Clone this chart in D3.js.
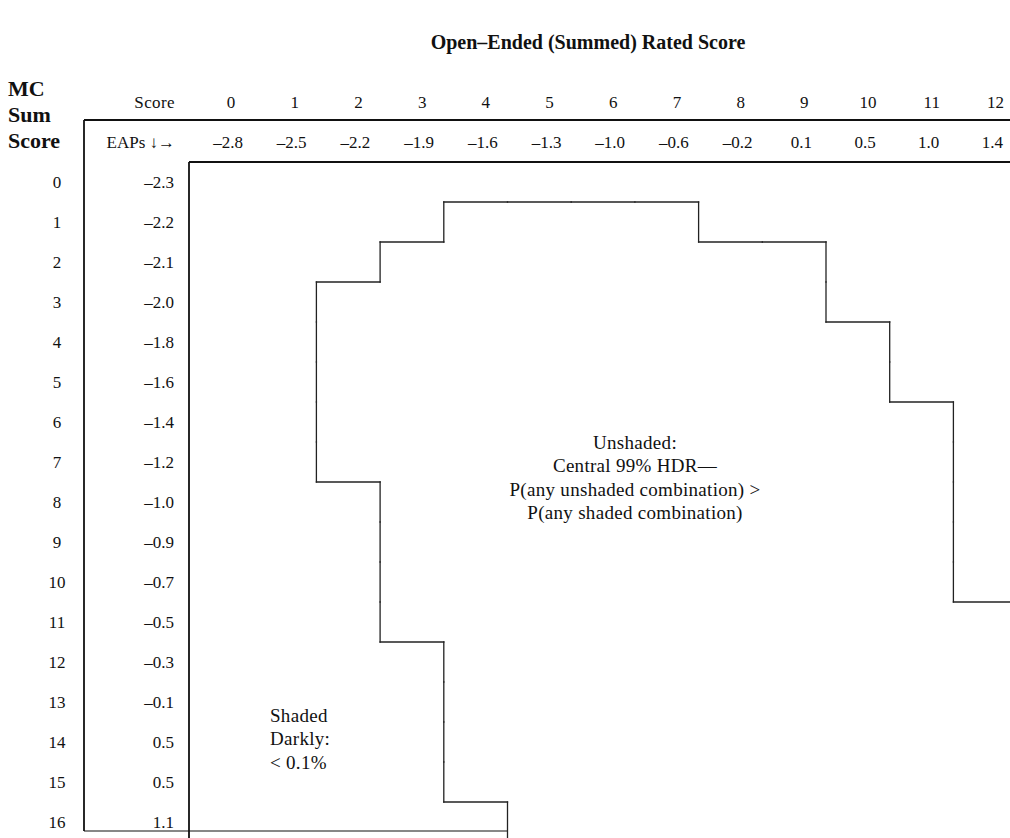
<!DOCTYPE html>
<html>
<head>
<meta charset="utf-8">
<script src="https://cdn.jsdelivr.net/npm/d3@7"></script>
<style>
  body { margin: 0; background: #fff; }
  svg { display: block; }
  text { font-family: "Liberation Serif", "DejaVu Serif", serif; fill: #111; }
</style>
</head>
<body>
<div id="chart"></div>
<script>
// open-ended (summed) rated score columns and their EAPs
const oeScores = d3.range(0, 13);
const oeEAPs = [-2.8, -2.5, -2.2, -1.9, -1.6, -1.3, -1.0, -0.6, -0.2, 0.1, 0.5, 1.0, 1.4];

// multiple-choice sum score rows and their EAPs
const mcScores = d3.range(0, 17);
const mcEAPs = [-2.3, -2.2, -2.1, -2.0, -1.8, -1.6, -1.4, -1.2, -1.0, -0.9, -0.7, -0.5, -0.3, -0.1, 0.5, 0.5, 1.1];

// central 99% HDR: first and last unshaded OE score for each MC row (null = row fully shaded)
const hdrLow = [null, 4, 3, 2, 2, 2, 2, 2, 3, 3, 3, 3, 4, 4, 4, 4, 5];
const hdrHigh = [null, 7, 9, 9, 10, 10, 11, 11, 11, 11, 11, 12, 12, 12, 12, 12, 12];

const unshadedLines = ["Unshaded:", "Central 99% HDR\u2014", "P(any unshaded combination) >", "P(any shaded combination)"];
const shadedLines = ["Shaded", "Darkly:", "< 0.1%"];

const width = 1010;
const height = 838;

const fmt = v => (v < 0 ? "\u2013" : "") + Math.abs(v).toFixed(1);

const svg = d3.select("#chart").append("svg")
  .attr("width", width)
  .attr("height", height);

svg.append("rect").attr("width", width).attr("height", height).attr("fill", "#fff");

// columns are OE scores, rows are MC scores (-2, -1 are the two header rows)
const x = d3.scaleBand().domain(oeScores).range([189, 189 + 13 * 63.7]);
const y = d3.scaleBand().domain(d3.range(-2, 17)).range([82, 82 + 19 * 40]);
const labelX = k => x(k) + x.bandwidth() * 0.66;
const rowY = k => y(k) + y.bandwidth() / 2;
const labelSize = "17px";

// title
svg.append("text")
  .attr("x", 588)
  .attr("y", 42)
  .attr("text-anchor", "middle")
  .attr("dy", "0.35em")
  .style("font-size", "20px")
  .style("font-weight", "bold")
  .text("Open\u2013Ended (Summed) Rated Score");

// row axis title
["MC", "Sum", "Score"].forEach((t, i) => {
  svg.append("text")
    .attr("x", 8)
    .attr("y", 88 + i * 26)
    .attr("dy", "0.35em")
    .style("font-size", "22px")
    .style("font-weight", "bold")
    .text(t);
});

// header rows
svg.append("text")
  .attr("x", 175).attr("y", rowY(-2)).attr("dy", "0.35em")
  .attr("text-anchor", "end")
  .style("font-size", labelSize)
  .style("letter-spacing", "0.4px")
  .text("Score");

svg.append("text")
  .attr("x", 175).attr("y", rowY(-1)).attr("dy", "0.35em")
  .attr("text-anchor", "end")
  .style("font-size", labelSize)
  .text("EAPs \u2193\u2192");

svg.selectAll(".oe-score")
  .data(oeScores)
  .join("text")
  .attr("class", "oe-score")
  .attr("x", d => labelX(d))
  .attr("y", rowY(-2))
  .attr("dy", "0.35em")
  .attr("text-anchor", "middle")
  .style("font-size", labelSize)
  .text(d => d);

svg.selectAll(".oe-eap")
  .data(oeEAPs)
  .join("text")
  .attr("class", "oe-eap")
  .attr("x", (d, i) => labelX(i) - 3)
  .attr("y", rowY(-1))
  .attr("dy", "0.35em")
  .attr("text-anchor", "middle")
  .style("font-size", labelSize)
  .text(d => fmt(d));

// row labels
svg.selectAll(".mc-score")
  .data(mcScores)
  .join("text")
  .attr("class", "mc-score")
  .attr("x", 57)
  .attr("y", d => rowY(d))
  .attr("dy", "0.35em")
  .attr("text-anchor", "middle")
  .style("font-size", labelSize)
  .text(d => d);

svg.selectAll(".mc-eap")
  .data(mcEAPs)
  .join("text")
  .attr("class", "mc-eap")
  .attr("x", 174)
  .attr("y", (d, i) => rowY(i))
  .attr("dy", "0.35em")
  .attr("text-anchor", "end")
  .style("font-size", labelSize)
  .text(d => fmt(d));

// table frame
const frame = svg.append("g")
  .attr("fill", "none")
  .attr("stroke", "#111")
  .attr("stroke-width", 1.8);

const topY = y(-1) - 2;
const bottomY = 831;
frame.append("line").attr("x1", 84).attr("x2", width).attr("y1", topY).attr("y2", topY);
frame.append("line").attr("x1", 84).attr("x2", 84).attr("y1", topY).attr("y2", bottomY);
frame.append("line").attr("x1", x(0)).attr("x2", width).attr("y1", y(0)).attr("y2", y(0));
frame.append("line").attr("x1", x(0)).attr("x2", x(0)).attr("y1", y(0)).attr("y2", height);
frame.append("line").attr("x1", 84).attr("x2", x(5)).attr("y1", bottomY).attr("y2", bottomY)
  .attr("stroke-width", 1.2);

// HDR boundary: edges between unshaded and shaded cells
const inside = (r, c) => r >= 0 && r < mcScores.length && hdrLow[r] !== null && c >= hdrLow[r] && c <= hdrHigh[r];
const inGrid = (r, c) => r >= 0 && r < mcScores.length && c >= 0 && c < oeScores.length;
const edges = [];
mcScores.forEach(r => {
  oeScores.forEach(c => {
    if (!inside(r, c)) return;
    const x0 = x(c), x1 = x(c) + x.bandwidth();
    const y0 = y(r), y1 = y(r) + y.bandwidth();
    if (inGrid(r - 1, c) && !inside(r - 1, c)) edges.push([x0, y0, x1, y0]);
    if (inGrid(r + 1, c) && !inside(r + 1, c)) edges.push([x0, y1, x1, y1]);
    if (inGrid(r, c - 1) && !inside(r, c - 1)) edges.push([x0, y0, x0, y1]);
    if (inGrid(r, c + 1) && !inside(r, c + 1)) edges.push([x1, y0, x1, y1]);
  });
});

svg.append("g")
  .selectAll("line")
  .data(edges)
  .join("line")
  .attr("x1", d => d[0]).attr("y1", d => d[1])
  .attr("x2", d => d[2]).attr("y2", d => d[3])
  .attr("stroke", "#222")
  .attr("stroke-width", 1.3)
  .attr("stroke-linecap", "square");

// annotations
svg.append("g")
  .selectAll("text")
  .data(unshadedLines)
  .join("text")
  .attr("x", 635)
  .attr("y", (d, i) => 442 + i * 23.5)
  .attr("dy", "0.35em")
  .attr("text-anchor", "middle")
  .style("font-size", "19px")
  .style("letter-spacing", "0.3px")
  .text(d => d);

svg.append("g")
  .selectAll("text")
  .data(shadedLines)
  .join("text")
  .attr("x", 270)
  .attr("y", (d, i) => 715 + i * 23.5)
  .attr("dy", "0.35em")
  .style("font-size", "19px")
  .style("letter-spacing", "0.3px")
  .text(d => d);
</script>
</body>
</html>
